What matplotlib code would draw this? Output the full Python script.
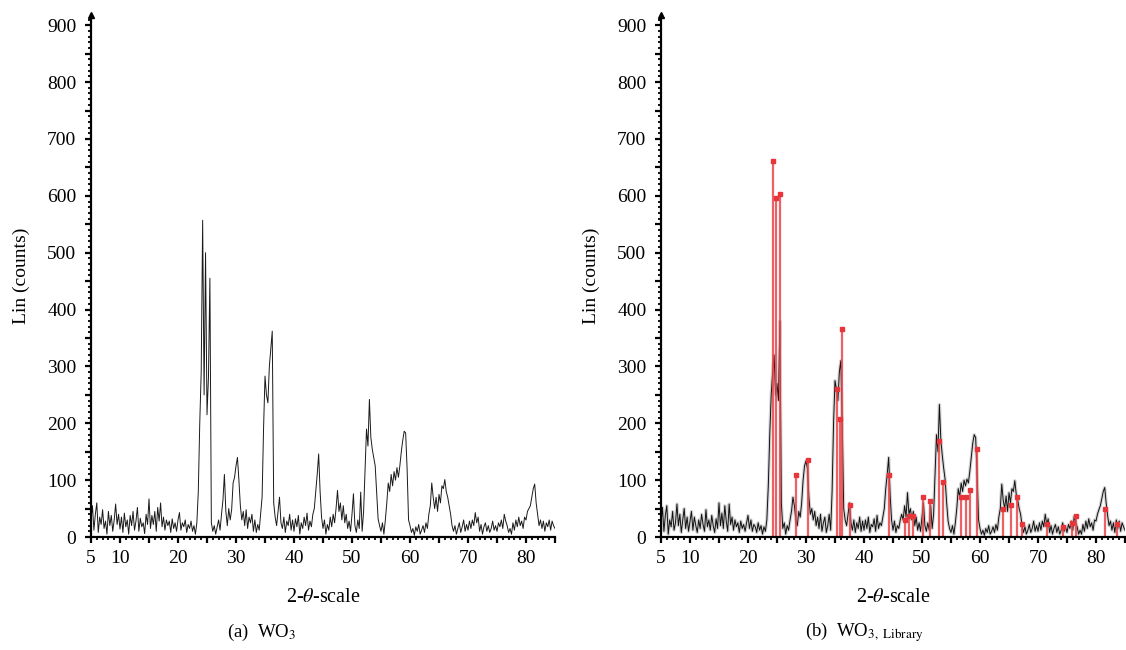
import numpy as np
import matplotlib
matplotlib.use("Agg")
import matplotlib.pyplot as plt
from matplotlib.ticker import MultipleLocator, FuncFormatter

plt.rcParams['font.family'] = ['Liberation Serif', 'DejaVu Serif']
plt.rcParams['mathtext.fontset'] = 'stix'

# 2-theta grid: 5 .. 85 deg, 0.25 deg step
two_theta = np.linspace(5, 85, 321)

# (a) WO3 measured pattern (Lin counts)
counts_a = [
    30, 55, 12, 40, 60, 8, 35, 22, 48, 15, 28, 5, 45, 20, 38, 10, 30, 58, 22, 40,
    14, 35, 8, 42, 18, 30, 5, 38, 20, 45, 12, 28, 52, 10, 33, 18, 25, 6, 40, 22,
    67, 15, 38, 22, 45, 10, 52, 28, 60, 18, 35, 12, 30, 20, 28, 8, 32, 15, 25, 10,
    30, 43, 12, 25, 18, 30, 8, 22, 15, 28, 10, 20, 5, 25, 80, 200, 290, 557, 250, 500,
    215, 280, 455, 25, 10, 20, 5, 18, 30, 12, 40, 65, 110, 45, 20, 50, 30, 48, 95, 105,
    125, 140, 100, 55, 30, 45, 20, 48, 15, 35, 25, 40, 10, 30, 8, 22, 12, 42, 70, 190,
    283, 250, 236, 300, 330, 362, 60, 35, 20, 45, 70, 25, 15, 35, 8, 28, 20, 40, 12, 30,
    10, 32, 18, 38, 5, 25, 15, 35, 20, 42, 12, 28, 18, 40, 50, 80, 110, 146, 80, 35,
    15, 30, 5, 22, 12, 35, 18, 40, 25, 50, 82, 45, 60, 30, 55, 25, 40, 15, 28, 10,
    40, 76, 20, 8, 30, 15, 79, 10, 45, 120, 190, 160, 242, 175, 154, 140, 125, 80, 32, 20,
    10, 25, 5, 30, 60, 95, 80, 110, 90, 115, 100, 122, 105, 125, 150, 170, 186, 183, 120, 30,
    20, 8, 15, 3, 18, 10, 22, 5, 12, 20, 8, 25, 15, 40, 55, 95, 70, 50, 70, 45,
    75, 60, 90, 85, 101, 80, 70, 55, 40, 20, 10, 20, 5, 15, 25, 8, 18, 30, 10, 22,
    12, 28, 15, 30, 20, 43, 25, 35, 10, 22, 5, 18, 25, 10, 20, 8, 15, 28, 12, 20,
    10, 25, 18, 30, 15, 40, 28, 20, 8, 15, 5, 25, 12, 30, 18, 35, 20, 28, 15, 35,
    30, 45, 50, 55, 70, 85, 93, 60, 40, 20, 30, 15, 28, 10, 25, 18, 30, 12, 28, 20,
    15,
]

# (b) measured pattern shown with the library reference
counts_b = [
    25, 52, 10, 38, 55, 5, 30, 18, 45, 12, 25, 58, 20, 40, 8, 30, 50, 15, 35, 10,
    28, 45, 12, 35, 20, 8, 30, 15, 40, 22, 10, 48, 18, 30, 12, 38, 20, 8, 32, 15,
    60, 20, 42, 15, 55, 28, 10, 58, 22, 35, 12, 30, 18, 25, 8, 28, 15, 22, 10, 25,
    38, 15, 30, 10, 22, 18, 8, 25, 12, 20, 5, 18, 10, 30, 90, 180, 250, 290, 320, 250,
    270, 240, 380, 60, 15, 25, 5, 20, 12, 30, 45, 70, 55, 30, 20, 45, 35, 60, 100, 125,
    134, 120, 70, 40, 50, 30, 45, 20, 35, 15, 40, 10, 25, 35, 8, 20, 40, 12, 80, 200,
    275, 260, 240, 290, 310, 200, 50, 30, 20, 40, 60, 25, 12, 30, 8, 25, 15, 35, 10, 28,
    12, 30, 15, 35, 8, 22, 18, 32, 10, 38, 15, 25, 20, 35, 50, 85, 110, 140, 75, 30,
    12, 28, 8, 20, 15, 30, 40, 30, 55, 35, 78, 40, 50, 30, 45, 20, 35, 12, 25, 10,
    35, 60, 20, 10, 25, 12, 55, 15, 40, 110, 180, 150, 233, 170, 143, 120, 100, 60, 28, 15,
    8, 20, 5, 25, 50, 85, 70, 95, 80, 100, 90, 102, 95, 116, 140, 165, 180, 175, 110, 30,
    15, 5, 12, 3, 15, 8, 20, 5, 10, 18, 8, 22, 12, 35, 50, 93, 65, 50, 72, 45,
    78, 60, 85, 80, 99, 75, 65, 50, 40, 20, 8, 18, 5, 12, 22, 8, 15, 28, 10, 20,
    10, 25, 12, 28, 18, 40, 22, 32, 8, 20, 5, 15, 22, 8, 18, 5, 12, 25, 10, 18,
    8, 22, 15, 28, 12, 37, 25, 18, 5, 12, 5, 22, 10, 28, 15, 32, 18, 25, 12, 30,
    28, 40, 48, 55, 68, 80, 87, 60, 38, 20, 28, 12, 25, 8, 30, 15, 28, 10, 25, 18,
    12,
]

# WO3 library reference lines
lib_pos = [24.3, 24.85, 25.55, 28.2, 30.4, 35.3, 35.8, 36.2, 37.6, 44.3, 47.0, 47.8,
           48.5, 50.2, 51.4, 53.0, 53.7, 56.8, 57.6, 58.3, 59.4, 64.0, 65.3, 66.3,
           67.2, 71.6, 74.3, 75.8, 76.5, 81.6, 83.6]
lib_int = [662, 597, 603, 109, 135, 261, 207, 365, 56, 109, 30, 37,
           37, 71, 64, 168, 96, 70, 70, 83, 155, 50, 57, 70,
           23, 23, 17, 24, 37, 49, 23]

x_labels = [5, 10, 20, 30, 40, 50, 60, 70, 80]

W, H = 1126, 650
fig = plt.figure(figsize=(W / 100, H / 100), dpi=100)

ax_a = fig.add_axes([91 / W, 1 - 537 / H, 464 / W, 522 / H])
ax_b = fig.add_axes([661 / W, 1 - 537 / H, 464 / W, 522 / H])


def style(ax):
    ax.set_xlim(5, 85)
    ax.set_ylim(0, 918)
    for s in ('top', 'right'):
        ax.spines[s].set_visible(False)
    for s in ('left', 'bottom'):
        ax.spines[s].set_linewidth(1.6)
    ax.xaxis.set_major_locator(MultipleLocator(5))
    ax.xaxis.set_minor_locator(MultipleLocator(1))
    ax.xaxis.set_major_formatter(FuncFormatter(
        lambda v, p: f"{int(round(v))}" if int(round(v)) in x_labels else ""))
    ax.yaxis.set_major_locator(MultipleLocator(50))
    ax.yaxis.set_minor_locator(MultipleLocator(10))
    ax.yaxis.set_major_formatter(FuncFormatter(
        lambda v, p: f"{int(round(v))}" if int(round(v)) % 100 == 0 else ""))
    ax.tick_params(which='major', length=4.5, width=1.6, labelsize=14)
    ax.tick_params(which='minor', length=2.5, width=1.3)
    ax.tick_params(axis='x', pad=5)
    ax.tick_params(axis='y', pad=6)
    ax.set_xlabel('2-$\\theta$-scale', fontsize=14.5, labelpad=15)
    ax.set_ylabel('Lin (counts)', fontsize=14, labelpad=12)
    ax.plot([0], [1], marker='^', markersize=5, color='k',
            transform=ax.transAxes, clip_on=False)


style(ax_a)
style(ax_b)

ax_a.plot(two_theta, counts_a, color='#1a1a1a', lw=0.7)

ax_b.plot(two_theta, counts_b, color='#888888', lw=2.4, alpha=0.35)
ax_b.plot(two_theta, counts_b, color='#111111', lw=0.7)
ax_b.vlines(lib_pos, 0, lib_int, colors='#e8454a', lw=1.6, alpha=0.85)
ax_b.plot(lib_pos, lib_int, 's', color='#e8353a', markersize=2.6, lw=0)

fig.text(262 / W, 1 - 632 / H, '(a)  WO$_{3}$', ha='center', va='center', fontsize=13.5)
fig.text(864 / W, 1 - 632 / H, '(b)  WO$_{3,\\ \\mathrm{Library}}$', ha='center',
         va='center', fontsize=13.5)

fig.savefig('out.png', dpi=100)
